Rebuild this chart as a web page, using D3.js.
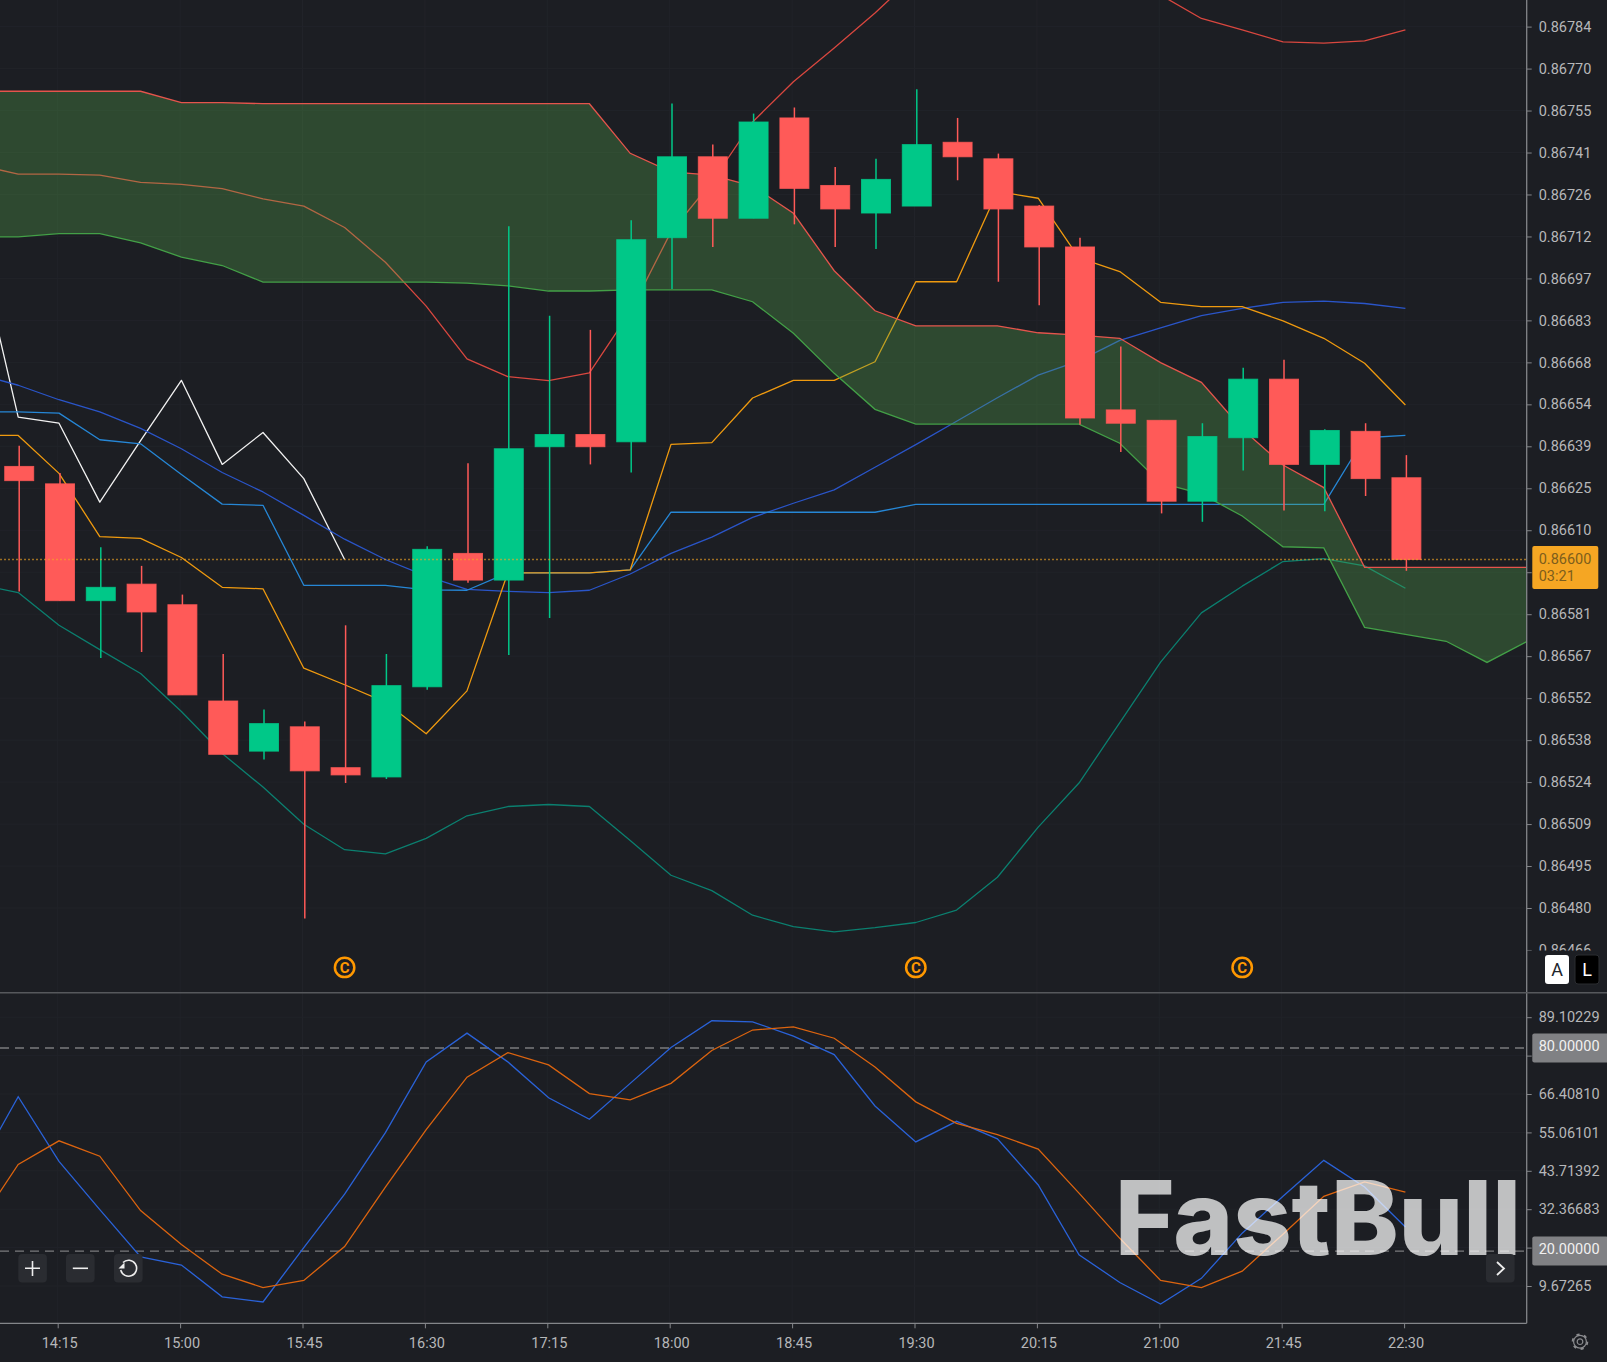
<!DOCTYPE html>
<html>
<head>
<meta charset="utf-8">
<title>FastBull chart</title>
<script src="https://cdn.jsdelivr.net/npm/d3@7"></script>
<style>
    html, body { margin: 0; padding: 0; background: #1c1e23; overflow: hidden; }
    svg { display: block; }
    text { font-family: Roboto, "Noto Sans", sans-serif; }
</style>
</head>
<body>
<div id="chart"></div>
<script>
// Every 15 min bar slot on the time axis, including the ones off to the left and the future cloud.
var times = ["13:45", "14:00", "14:15", "14:30", "14:45", "15:00", "15:15", "15:30", "15:45", "16:00",
    "16:15", "16:30", "16:45", "17:00", "17:15", "17:30", "17:45", "18:00", "18:15", "18:30",
    "18:45", "19:00", "19:15", "19:30", "19:45", "20:00", "20:15", "20:30", "20:45", "21:00",
    "21:15", "21:30", "21:45", "22:00", "22:15", "22:30", "22:45", "23:00", "23:15"];
var xLabels = ["14:15", "15:00", "15:45", "16:30", "17:15", "18:00", "18:45", "19:30", "20:15", "21:00", "21:45", "22:30"];
var markerTimes = ["16:00", "19:30", "21:30"];

// Candles, 14:00 to 22:30.
var opens = [0.866324, 0.866264, 0.865861, 0.865918, 0.865847, 0.865515, 0.865342, 0.865426, 0.865285, 0.865253, 0.865564, 0.866024,
    0.865932, 0.866392, 0.866434, 0.866409, 0.867113, 0.867392, 0.867180, 0.867526, 0.867293, 0.867198, 0.867222, 0.867442,
    0.867385, 0.867222, 0.867081, 0.866519, 0.866483, 0.866204, 0.866423, 0.866625, 0.866331, 0.866445, 0.866285];
var highs = [0.866395, 0.866301, 0.866045, 0.865981, 0.865882, 0.865677, 0.865486, 0.865444, 0.865776, 0.865677, 0.866049, 0.866335,
    0.867152, 0.866844, 0.866795, 0.867173, 0.867576, 0.867434, 0.867541, 0.867562, 0.867357, 0.867385, 0.867625, 0.867526,
    0.867403, 0.867226, 0.867113, 0.866738, 0.866483, 0.866473, 0.866664, 0.866692, 0.866452, 0.866473, 0.866363];
var lows = [0.865893, 0.865861, 0.865663, 0.865684, 0.865536, 0.865331, 0.865313, 0.864765, 0.865232, 0.865246, 0.865554, 0.865923,
    0.865674, 0.865801, 0.866331, 0.866303, 0.866936, 0.867081, 0.867180, 0.867159, 0.867081, 0.867074, 0.867222, 0.867311,
    0.866961, 0.866880, 0.866469, 0.866374, 0.866162, 0.866133, 0.866310, 0.866172, 0.866169, 0.866222, 0.865964];
var closes = [0.866275, 0.865861, 0.865907, 0.865822, 0.865536, 0.865331, 0.865437, 0.865274, 0.865260, 0.865568, 0.866038, 0.865932,
    0.866385, 0.866434, 0.866392, 0.867106, 0.867392, 0.867180, 0.867512, 0.867283, 0.867212, 0.867314, 0.867434, 0.867392,
    0.867212, 0.867081, 0.866491, 0.866473, 0.866204, 0.866427, 0.866625, 0.866331, 0.866448, 0.866282, 0.866003];

// Indicator lines, starting at 13:45.
var cloudTop = [0.867618, 0.867618, 0.867618, 0.867618, 0.867618, 0.867579, 0.867579, 0.867575, 0.867575, 0.867575, 0.867575, 0.867575,
    0.867575, 0.867575, 0.867575, 0.867575, 0.867404, 0.867340, 0.867329, 0.867291, 0.867197, 0.866999, 0.866861, 0.866809,
    0.866809, 0.866809, 0.866785, 0.866777, 0.866766, 0.866682, 0.866614, 0.866453, 0.866329, 0.866251, 0.865976, 0.865976,
    0.865976, 0.865976, 0.865976];
var cloudBottom = [0.867116, 0.867116, 0.867127, 0.867127, 0.867095, 0.867046, 0.867017, 0.866960, 0.866960, 0.866960, 0.866960, 0.866960,
    0.866956, 0.866947, 0.866929, 0.866929, 0.866933, 0.866933, 0.866933, 0.866892, 0.866783, 0.866645, 0.866521, 0.866470,
    0.866470, 0.866470, 0.866470, 0.866470, 0.866404, 0.866267, 0.866229, 0.866153, 0.866047, 0.866043, 0.865769, 0.865745,
    0.865721, 0.865648, 0.865722];
var bandUpper = [0.867364, 0.867332, 0.867332, 0.867329, 0.867304, 0.867297, 0.867282, 0.867247, 0.867222, 0.867148, 0.867028, 0.866877,
    0.866695, 0.866634, 0.866620, 0.866647, 0.866857, 0.867133, 0.867305, 0.867512, 0.867651, 0.867767, 0.867888, 0.868019,
    0.868105, 0.868140, 0.868140, 0.868105, 0.868036, 0.867950, 0.867869, 0.867830, 0.867788, 0.867784, 0.867792, 0.867830];
var bandLower = [0.865918, 0.865889, 0.865776, 0.865692, 0.865610, 0.865479, 0.865334, 0.865218, 0.865090, 0.865002, 0.864988, 0.865041,
    0.865119, 0.865151, 0.865158, 0.865151, 0.865034, 0.864914, 0.864861, 0.864776, 0.864737, 0.864719, 0.864733, 0.864751,
    0.864794, 0.864907, 0.865080, 0.865232, 0.865440, 0.865649, 0.865819, 0.865911, 0.865996, 0.866006, 0.865981, 0.865904];
var laggingLine = [0.867099, 0.866494, 0.866473, 0.866201, 0.866413, 0.866621, 0.866331, 0.866441, 0.866282, 0.866003];
var slowAverage = [0.866643, 0.866604, 0.866554, 0.866512, 0.866455, 0.866385, 0.866303, 0.866236, 0.866155, 0.866073, 0.866003, 0.865946,
    0.865900, 0.865893, 0.865889, 0.865897, 0.865953, 0.866024, 0.866080, 0.866148, 0.866197, 0.866243, 0.866321, 0.866399,
    0.866480, 0.866561, 0.866639, 0.866688, 0.866759, 0.866802, 0.866844, 0.866869, 0.866890, 0.866894, 0.866886, 0.866869];
var baseLine = [0.866512, 0.866512, 0.866508, 0.866416, 0.866402, 0.866296, 0.866194, 0.866190, 0.865914, 0.865914, 0.865914, 0.865898,
    0.865897, 0.865957, 0.865957, 0.865957, 0.865967, 0.866166, 0.866166, 0.866166, 0.866166, 0.866166, 0.866166, 0.866193,
    0.866193, 0.866193, 0.866193, 0.866193, 0.866193, 0.866193, 0.866193, 0.866193, 0.866193, 0.866193, 0.866423, 0.866431];
var turningLine = [0.866431, 0.866431, 0.866300, 0.866082, 0.866076, 0.866010, 0.865907, 0.865902, 0.865628, 0.865571, 0.865511, 0.865402,
    0.865550, 0.865957, 0.865957, 0.865957, 0.865967, 0.866400, 0.866406, 0.866560, 0.866621, 0.866621, 0.866685, 0.866961,
    0.866961, 0.867272, 0.867249, 0.867043, 0.866996, 0.866890, 0.866875, 0.866875, 0.866826, 0.866766, 0.866680, 0.866536];

// Stochastic pane, starting at 13:45.
var stochK = [44.08, 65.60, 46.50, 32.25, 18.30, 15.88, 6.48, 4.96, 21.03, 36.80, 54.99, 75.91,
    84.40, 75.91, 65.30, 58.93, 69.55, 80.16, 88.05, 87.74, 83.49, 78.04, 62.88, 52.26,
    58.33, 53.17, 39.53, 18.91, 10.72, 4.35, 11.93, 25.28, 36.19, 46.80, 38.92, 27.10];
var stochD = [27.40, 45.59, 52.57, 48.02, 31.95, 21.94, 13.15, 9.21, 11.33, 21.33, 38.92, 55.90,
    71.37, 78.64, 75.00, 66.51, 64.69, 69.55, 79.25, 85.31, 86.22, 82.89, 74.40, 64.09,
    57.72, 54.39, 50.14, 37.10, 23.76, 11.33, 9.21, 14.06, 24.97, 36.19, 40.44, 37.41];

var priceTicks = [0.8678410, 0.8676962, 0.8675515, 0.8674067, 0.8672620, 0.8671172, 0.8669724, 0.8668277, 0.8666829, 0.8665381, 0.8663934, 0.8662486,
    0.8661039, 0.8659591, 0.8658143, 0.8656696, 0.8655248, 0.8653800, 0.8652353, 0.8650905, 0.8649458, 0.8648010, 0.8646562];
var stochTicks = [89.10229, 77.75520, 66.40810, 55.06101, 43.71392, 32.36683, 21.01974, 9.67265];
// These ticks keep their mark but their label sits under a price tag.
var coveredTicks = [0.8659591, 77.75520, 21.01974];
var stochLevels = [80, 20];
var currentPrice = 0.866003;
var countdown = "03:21";

var width = 1607, height = 1362;
var axisX = 1526.7, paneSplit = 992.7, mainBottom = 950.5, bottomY = 1323.3;
var bg = "#1c1e23", axisColor = "#84868a", labelColor = "#b6b7b9", fontSize = 14.5;

var svg = d3.select("#chart").append("svg")
    .attr("width", width)
    .attr("height", height);

var defs = svg.append("defs");
defs.append("clipPath").attr("id", "mainClip").append("rect")
    .attr("width", axisX).attr("height", paneSplit);
defs.append("clipPath").attr("id", "axisPaneClip").append("rect")
    .attr("x", 0).attr("width", width - axisX).attr("height", mainBottom);
defs.append("clipPath").attr("id", "stochClip").append("rect")
    .attr("y", paneSplit).attr("width", axisX).attr("height", bottomY - paneSplit);

var x = d3.scalePoint().domain(times).range([-22.6, 1527.8]);
var yPrice = d3.scaleLinear().domain([0.867841, 0.864801]).range([26.6, 908]);
var yStoch = d3.scaleLinear().domain([89.10229, 9.67265]).range([1017.2, 1286]);

function linePath(scale) {
    return d3.line()
        .x((d, i) => x(times[i]))
        .y(d => scale(d));
}

function tickLabel(d) {
    return coveredTicks.includes(d) ? "" : d.toFixed(5);
}

// Faint grid.
var grid = svg.append("g").attr("stroke", "#212329").attr("stroke-width", 1);
grid.selectAll(".gx").data(xLabels).enter().append("line")
    .attr("x1", d => x(d) - 1.3).attr("x2", d => x(d) - 1.3)
    .attr("y1", 0).attr("y2", bottomY);
grid.selectAll(".gy").data(priceTicks.slice(0, -1)).enter().append("line")
    .attr("x1", 0).attr("x2", axisX)
    .attr("y1", d => yPrice(d)).attr("y2", d => yPrice(d));
grid.selectAll(".gs").data(stochTicks).enter().append("line")
    .attr("x1", 0).attr("x2", axisX)
    .attr("y1", d => yStoch(d)).attr("y2", d => yStoch(d));

// Price pane. The cloud sits over the thin lines but under the candles.
var main = svg.append("g").attr("clip-path", "url(#mainClip)");
var lineLayer = main.append("g").attr("fill", "none").attr("stroke-width", 1.3).attr("stroke-linejoin", "round");
var lineSeries = [
    { values: bandUpper, color: "#d9473f" },
    { values: bandLower, color: "#0b7f6f" },
    { values: laggingLine, color: "#f2f2f2" },
    { values: slowAverage, color: "#2a55c9" },
    { values: baseLine, color: "#2687d6" },
    { values: turningLine, color: "#ef9a0f" }
];
lineLayer.selectAll("path").data(lineSeries).enter().append("path")
    .attr("d", d => linePath(yPrice)(d.values))
    .attr("stroke", d => d.color);

var cloud = d3.area()
    .x((d, i) => x(times[i]))
    .y0((d, i) => yPrice(cloudBottom[i]))
    .y1(d => yPrice(d));
main.append("path")
    .attr("d", cloud(cloudTop))
    .attr("fill", "rgb(88,175,78)")
    .attr("fill-opacity", 0.3);
main.append("path")
    .attr("d", linePath(yPrice)(cloudTop))
    .attr("fill", "none").attr("stroke", "#e5544c").attr("stroke-width", 1.3);
main.append("path")
    .attr("d", linePath(yPrice)(cloudBottom))
    .attr("fill", "none").attr("stroke", "#43a047").attr("stroke-width", 1.3);

// Candles.
var upColor = "#00c888", downColor = "#ff5a58";
var bars = opens.map((o, i) => ({ time: times[i + 1], o: o, h: highs[i], l: lows[i], c: closes[i] }));
var candle = main.selectAll(".candle").data(bars).enter().append("g").attr("class", "candle");
candle.append("line")
    .attr("x1", d => x(d.time) + 1).attr("x2", d => x(d.time) + 1)
    .attr("y1", d => yPrice(d.h)).attr("y2", d => yPrice(d.l))
    .attr("stroke", d => d.c >= d.o ? upColor : downColor)
    .attr("stroke-width", 1.5);
candle.append("rect")
    .attr("x", d => x(d.time) + 1 - 14.5)
    .attr("width", 29)
    .attr("y", d => yPrice(Math.max(d.o, d.c)))
    .attr("height", d => Math.abs(yPrice(d.o) - yPrice(d.c)))
    .attr("fill", d => d.c >= d.o ? upColor : downColor)
    .attr("stroke", d => d.c >= d.o ? upColor : downColor)
    .attr("stroke-opacity", 0.8);

// Last price line.
svg.append("line")
    .attr("x1", 0).attr("x2", axisX)
    .attr("y1", yPrice(currentPrice)).attr("y2", yPrice(currentPrice))
    .attr("stroke", "#f5a623").attr("stroke-opacity", 0.6)
    .attr("stroke-width", 1.5).attr("stroke-dasharray", "2,2");

// Copyright style markers under the candles.
var marker = svg.selectAll(".marker").data(markerTimes).enter().append("g")
    .attr("class", "marker")
    .attr("transform", d => `translate(${x(d)}, 967.4)`);
marker.append("circle")
    .attr("r", 9.7)
    .attr("fill", "none").attr("stroke", "#ff9800").attr("stroke-width", 2.5);
marker.append("text")
    .attr("text-anchor", "middle").attr("dy", "0.36em")
    .attr("font-size", 15).attr("font-weight", 700)
    .attr("fill", "#ff9800")
    .text("C");

// Stochastic pane.
var stoch = svg.append("g").attr("clip-path", "url(#stochClip)").attr("fill", "none").attr("stroke-width", 1.3);
stoch.selectAll(".level").data(stochLevels).enter().append("line")
    .attr("x1", 0).attr("x2", axisX)
    .attr("y1", d => yStoch(d)).attr("y2", d => yStoch(d))
    .attr("stroke", "#7a7b7e").attr("stroke-dasharray", "9,6");
stoch.append("path").attr("d", linePath(yStoch)(stochK)).attr("stroke", "#2a62d8");
stoch.append("path").attr("d", linePath(yStoch)(stochD)).attr("stroke", "#dc640f");

// Watermark sits over the lines.
svg.append("text")
    .attr("x", 1115).attr("y", 1255)
    .attr("font-size", 103).attr("font-weight", 800)
    .style("font-family", "Inter, Roboto, sans-serif")
    .attr("textLength", 406).attr("lengthAdjust", "spacingAndGlyphs")
    .attr("fill", "#ffffff").attr("fill-opacity", 0.72)
    .text("FastBull");

// Axes.
function styleAxis(g) {
    g.select(".domain").remove();
    g.selectAll(".tick line").attr("stroke", axisColor);
    g.selectAll(".tick text")
        .attr("fill", labelColor)
        .attr("font-size", fontSize)
        .style("font-family", "Roboto, sans-serif");
}

svg.append("g")
    .attr("transform", `translate(${axisX}, 0)`)
    .attr("clip-path", "url(#axisPaneClip)")
    .call(d3.axisRight(yPrice).tickValues(priceTicks).tickSize(5).tickPadding(7).tickFormat(tickLabel))
    .call(styleAxis);

svg.append("g")
    .attr("transform", `translate(${axisX}, 0)`)
    .call(d3.axisRight(yStoch).tickValues(stochTicks).tickSize(5).tickPadding(7).tickFormat(tickLabel))
    .call(styleAxis);

var timeAxis = svg.append("g")
    .attr("transform", `translate(-1.3, ${bottomY})`)
    .call(d3.axisBottom(x).tickValues(xLabels).tickSize(5).tickPadding(9))
    .call(styleAxis);
timeAxis.selectAll(".tick text").attr("dx", 1.5);

svg.append("line").attr("x1", axisX).attr("x2", axisX).attr("y1", 0).attr("y2", bottomY)
    .attr("stroke", axisColor).attr("stroke-width", 1.3);
svg.append("line").attr("x1", 0).attr("x2", axisX).attr("y1", bottomY).attr("y2", bottomY)
    .attr("stroke", axisColor).attr("stroke-width", 1.3);
svg.append("line").attr("x1", 0).attr("x2", width).attr("y1", paneSplit).attr("y2", paneSplit)
    .attr("stroke", "#56585c").attr("stroke-width", 1.5);

// Price tags.
var tag = svg.append("g");
tag.append("rect")
    .attr("x", 1532.3).attr("y", 546).attr("width", 66).attr("height", 43).attr("rx", 2)
    .attr("fill", "#f5a623");
tag.append("text").attr("x", 1538.7).attr("y", 558.7).attr("dy", "0.36em")
    .attr("font-size", fontSize).attr("fill", "#7d5e1c")
    .text(currentPrice.toFixed(5));
tag.append("text").attr("x", 1538.7).attr("y", 575.7).attr("dy", "0.36em")
    .attr("font-size", fontSize).attr("fill", "#7d5e1c")
    .text(countdown);

var levelTag = svg.selectAll(".levelTag").data(stochLevels).enter().append("g").attr("class", "levelTag");
levelTag.append("rect")
    .attr("x", 1532.3).attr("y", d => yStoch(d) - 14.5).attr("width", 76).attr("height", 29).attr("rx", 2)
    .attr("fill", "#808184");
levelTag.append("text")
    .attr("x", 1538.7).attr("y", d => yStoch(d) - 1.5).attr("dy", "0.33em")
    .attr("font-size", fontSize).attr("fill", "#f0f0f0")
    .text(d => d.toFixed(5));

// A and L toggles.
svg.append("rect").attr("x", 1545).attr("y", 955).attr("width", 24).attr("height", 29).attr("rx", 3).attr("fill", "#ffffff");
svg.append("text").attr("x", 1557).attr("y", 969.5).attr("dy", "0.36em").attr("text-anchor", "middle")
    .attr("font-size", 18).attr("fill", "#20242c").text("A");
svg.append("rect").attr("x", 1575).attr("y", 955).attr("width", 24).attr("height", 29).attr("rx", 3)
    .attr("fill", "#000000").attr("stroke", "#2a2c30");
svg.append("text").attr("x", 1587).attr("y", 969.5).attr("dy", "0.36em").attr("text-anchor", "middle")
    .attr("font-size", 18).attr("fill", "#ffffff").text("L");

// Zoom buttons.
function button(bx, by) {
    return svg.append("rect").attr("x", bx).attr("y", by).attr("width", 28.6).attr("height", 28.6).attr("rx", 4).attr("fill", "#2a2c31");
}
var iconStyle = g => g.attr("fill", "none").attr("stroke", "#eeeeee").attr("stroke-width", 1.6);
button(18.3, 1254);
svg.append("path").attr("d", "M25,1268.3H40M32.5,1261V1276").call(iconStyle);
button(66, 1254);
svg.append("path").attr("d", "M72.8,1268.3H88").call(iconStyle);
button(114, 1254);
svg.append("path").attr("d", "M123,1262.5A8,8 0 1 1 120.8,1270").call(iconStyle);
svg.append("path").attr("d", "M118.5,1268.5H124.5V1262.5Z").attr("fill", "#eeeeee");
button(1486, 1254);
svg.append("path").attr("d", "M1497,1262L1504,1268.5L1497,1275").call(iconStyle).attr("stroke-width", 1.8);

// Settings gear.
var gear = svg.append("g").attr("transform", "translate(1580, 1341.7)").attr("fill", "none").attr("stroke", "#8b8c8f");
gear.append("circle").attr("r", 2.8).attr("stroke-width", 1.2);
gear.append("circle").attr("r", 6.4).attr("stroke-width", 1.2);
gear.append("circle").attr("r", 7.4).attr("stroke-width", 1.8).attr("stroke-dasharray", "3.2,4.55");
</script>
</body>
</html>
